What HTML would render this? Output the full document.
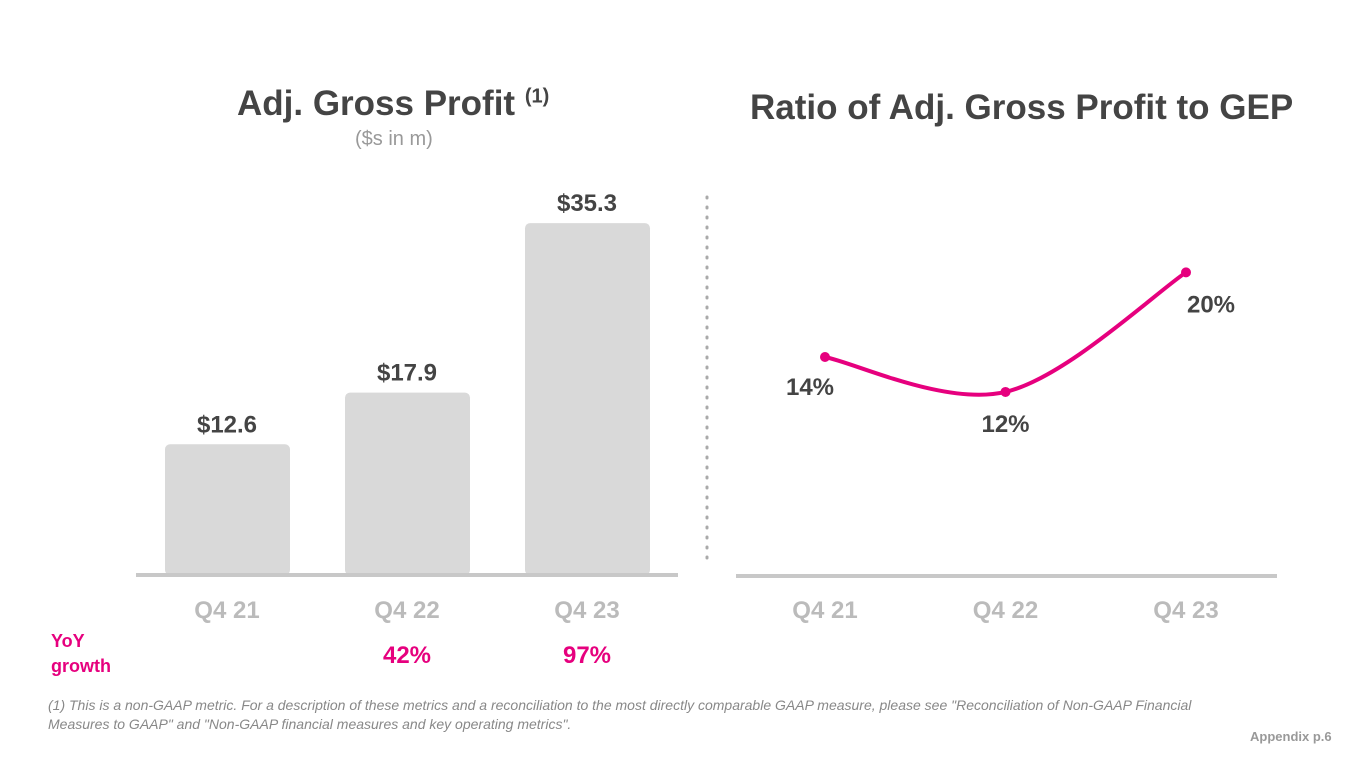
<!DOCTYPE html>
<html><head><meta charset="utf-8"><style>
body{margin:0;width:1365px;height:768px;background:#fff;font-family:"Liberation Sans",sans-serif;overflow:hidden;position:relative}
.t{position:absolute;white-space:nowrap}
</style></head><body>
<div class="t" style="left:237px;top:84px;font-size:35px;font-weight:bold;color:#444">Adj. Gross Profit <sup style="font-size:20px">(1)</sup></div>
<div class="t" style="left:355px;top:128px;font-size:20px;color:#999">($s in m)</div>
<div class="t" style="left:750px;top:88px;font-size:35px;font-weight:bold;color:#444">Ratio of Adj. Gross Profit to GEP</div>
<svg id="c" width="1365" height="768" style="position:absolute;left:0;top:0"></svg>
<div class="t" style="left:51px;top:629px;font-size:18px;font-weight:bold;color:#e6007e;line-height:25px">YoY<br>growth</div>
<div class="t" style="left:48px;top:696px;font-size:14px;font-style:italic;color:#888;line-height:19px">(1) This is a non-GAAP metric. For a description of these metrics and a reconciliation to the most directly comparable GAAP measure, please see "Reconciliation of Non-GAAP Financial<br>Measures to GAAP" and "Non-GAAP financial measures and key operating metrics".</div>
<div class="t" style="left:1250px;top:729px;font-size:13px;font-weight:bold;color:#999">Appendix p.6</div>
<script>
const categories=["Q4 21","Q4 22","Q4 23"];
const barValues=[12.6,17.9,35.3];
const barLabels=["$12.6","$17.9","$35.3"];
const yoyLabels=["","42%","97%"];
const ratioValues=[14.1,12.2,18.7];
const ratioLabels=["14%","12%","20%"];
const NS="http://www.w3.org/2000/svg",svg=document.getElementById('c');
function mk(t,a,txt){const e=document.createElementNS(NS,t);for(const k in a)e.setAttribute(k,a[k]);if(txt!==undefined)e.textContent=txt;svg.appendChild(e);return e;}
const base=567,bs=9.74;
const bx=i=>227+i*180;
const by=v=>base-v*bs;
barValues.forEach((v,i)=>{
 const r=mk('rect',{x:bx(i)-62,y:by(v),width:125,height:575-by(v),rx:5,fill:'#d9d9d9'});
 
 
 const l=mk('text',{x:bx(i),y:by(v)-12,'text-anchor':'middle','font-size':24,'font-weight':'bold',fill:'#444'},barLabels[i]);
 
 
 const c=mk('text',{x:bx(i),y:618,'text-anchor':'middle','font-size':24,'font-weight':'bold',fill:'#bbb'},categories[i]);
 
 
 if(yoyLabels[i]){const g=mk('text',{x:bx(i),y:663,'text-anchor':'middle','font-size':24,'font-weight':'bold',fill:'#e6007e'},yoyLabels[i]);
 
 }
});
const bl=mk('line',{x1:136,x2:678,y1:575,y2:575,stroke:'#c8c8c8','stroke-width':4});


const dv=mk('line',{x1:707,x2:707,y1:197,y2:565,stroke:'#aaa','stroke-width':3,'stroke-dasharray':'1 9','stroke-linecap':'round'});


const lx=i=>825+i*180.5;
const ly=v=>357-(v-14.1)*18.4;
const pts=ratioValues.map((v,i)=>[lx(i),ly(v)]);
let d='M'+pts[0];
for(let i=0;i<pts.length-1;i++){const p0=pts[Math.max(0,i-1)],p1=pts[i],p2=pts[i+1],p3=pts[Math.min(pts.length-1,i+2)];
 d+=` C${p1[0]+(p2[0]-p0[0])/6},${p1[1]+(p2[1]-p0[1])/6} ${p2[0]-(p3[0]-p1[0])/6},${p2[1]-(p3[1]-p1[1])/6} ${p2[0]},${p2[1]}`;}
const ln=mk('path',{d:d,fill:'none',stroke:'#e6007e','stroke-width':4});


const off=[[-15,38],[0,40],[25,40]];
ratioValues.forEach((v,i)=>{
 const p=mk('circle',{cx:lx(i),cy:ly(v),r:5,fill:'#e6007e'});
 
 
 const t=mk('text',{x:lx(i)+off[i][0],y:ly(v)+off[i][1],'text-anchor':'middle','font-size':24,'font-weight':'bold',fill:'#444'},ratioLabels[i]);
 
 
 const c=mk('text',{x:lx(i),y:618,'text-anchor':'middle','font-size':24,'font-weight':'bold',fill:'#bbb'},categories[i]);
 
 
});
const rl=mk('line',{x1:736,x2:1277,y1:576,y2:576,stroke:'#c8c8c8','stroke-width':4});


</script>
</body></html>
